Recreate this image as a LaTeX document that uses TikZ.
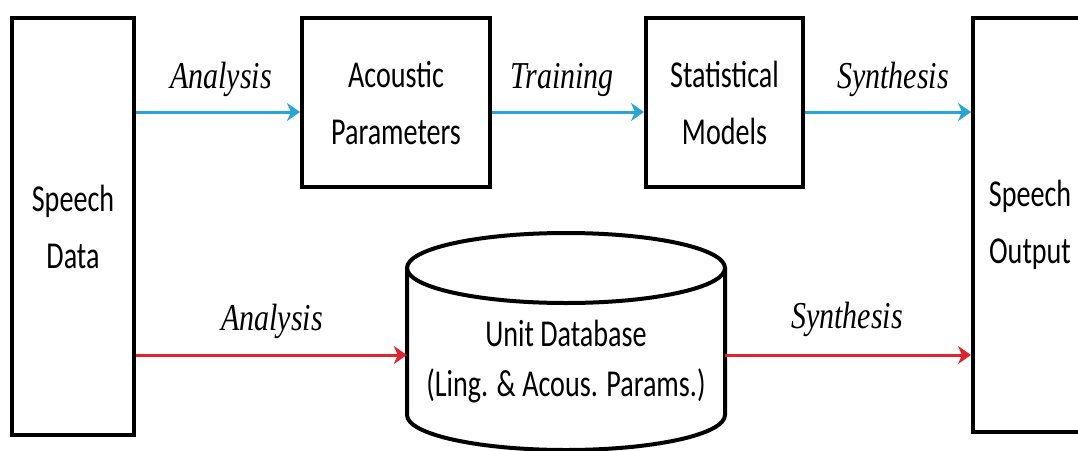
\documentclass[tikz,border=0pt]{standalone}
\usepackage{fontspec}
\usetikzlibrary{arrows.meta,calc}
\newfontfamily\boxfont[FakeStretch=0.74]{Carlito}
\newfontfamily\labfont[FakeStretch=0.79]{Liberation Serif}
\definecolor{ablue}{RGB}{40,165,215}
\definecolor{ared}{RGB}{225,35,45}
\begin{document}
\begin{tikzpicture}[x=1pt,y=-1pt,
  box/.style={draw=black, line width=4pt, rectangle, inner sep=0pt, align=center,
    font=\boxfont\fontsize{38}{57}\selectfont},
  lab/.style={anchor=base, inner sep=0pt, font=\labfont\itshape\fontsize{38}{44}\selectfont},
  conn/.style={line width=3pt, -{Stealth[length=13pt,width=18pt,inset=4pt]}},
  barrow/.style={conn, draw=ablue},
  rarrow/.style={conn, draw=ared}]
\useasboundingbox (0,0) rectangle (1078,450);
\clip (0,0) rectangle (1078,450);
\fill[white] (0,0) rectangle (1078,450);
% boxes
\node[box, minimum width=122pt, minimum height=417pt] (sd) at (73,226.5) {Speech\\Data};
\node[box, minimum width=188pt, minimum height=169pt] (ap) at (396,102.5) {Acoustic\\Parameters};
\node[box, minimum width=157pt, minimum height=169pt] (sm) at (724.5,102.5) {Statistical\\Models};
\node[box, minimum width=114pt, minimum height=414pt] (so) at (1030,225) {Speech\\Output};
% cylinder
\draw[line width=4pt] (407,268) -- (407,415) arc[start angle=180, end angle=360, x radius=159pt, y radius=35pt] -- (725,268);
\draw[line width=4pt] (566,268) ellipse [x radius=159pt, y radius=35pt];
\node[rectangle, inner sep=0pt, minimum width=318pt, minimum height=147pt] (db) at (566,341.5) {};
\node[align=center, inner sep=0pt, font=\boxfont\fontsize{38}{50}\selectfont] (dbt) at (566,362) {Unit Database\\(Ling. \& Acous. Params.)};
% connectors
\draw[barrow] ($(sd.east)!(ap.west)!(sd.north east)+(0,9.5)$) -- ($(ap.west)+(0,9.5)$);
\draw[barrow] ($(ap.east)+(0,9.5)$) -- ($(sm.west)+(0,9.5)$);
\draw[barrow] ($(sm.east)+(0,9.5)$) -- ($(so.west)!(sm.east)!(so.north west)+(0,9.5)$);
\draw[rarrow] ($(sd.east)!(db.west)!(sd.south east)+(0,13.5)$) -- ($(db.west)+(0,13.5)$);
\draw[rarrow] ($(db.east)+(0,13.5)$) -- ($(so.west)!(db.east)!(so.south west)+(0,13.5)$);
% labels
\node[lab] (l1) at (221,88) {Analysis};
\node[lab] (l2) at (562,88) {Training};
\node[lab] (l3) at (893,88) {Synthesis};
\node[lab] (l4) at (272,330) {Analysis};
\node[lab] (l5) at (847,328) {Synthesis};
\end{tikzpicture}
\end{document}
